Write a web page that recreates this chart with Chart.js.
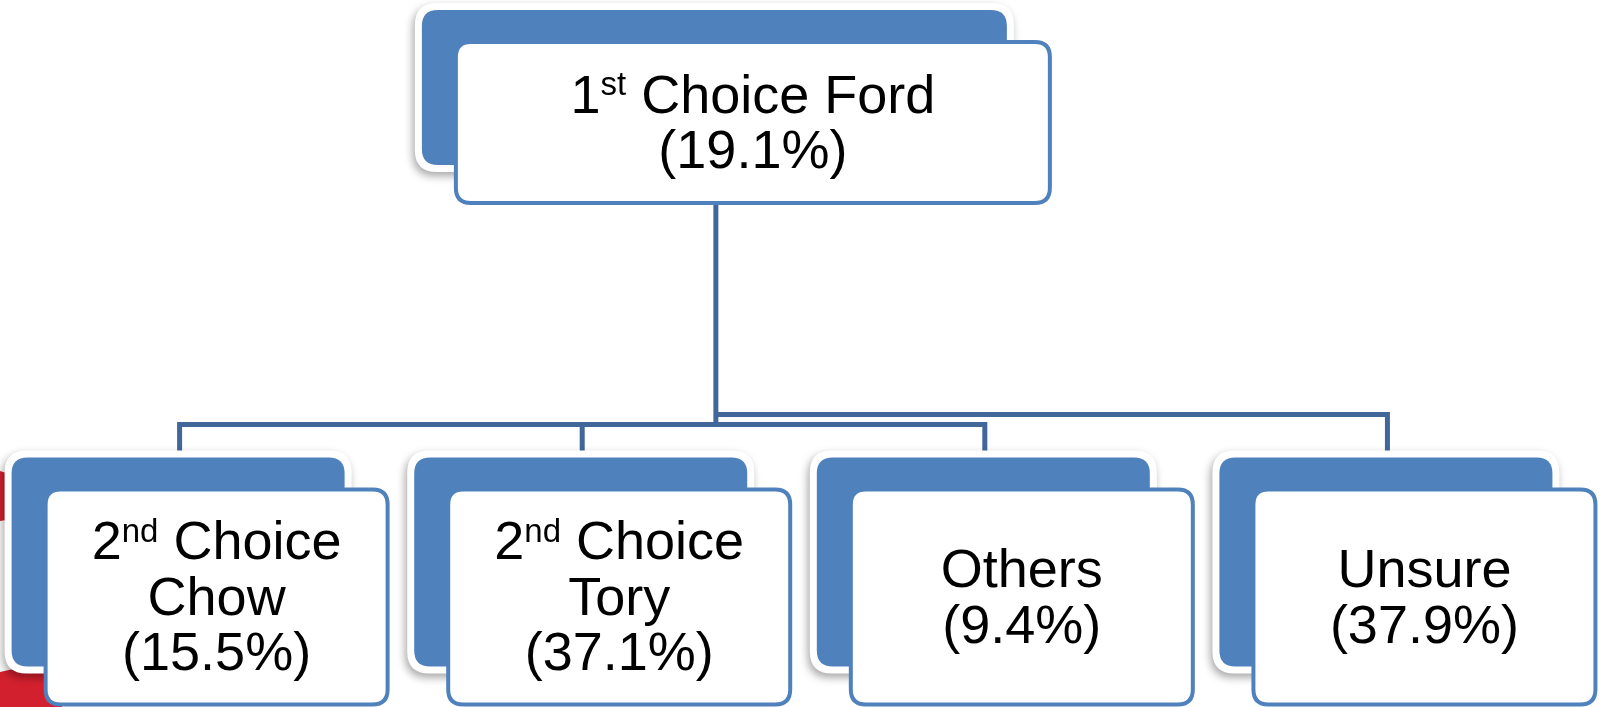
<!DOCTYPE html>
<html>
<head>
<meta charset="utf-8">
<script src="https://cdn.jsdelivr.net/npm/chart.js@4.4.1/dist/chart.umd.min.js"></script>
<style>
    html, body { margin: 0; padding: 0; background: #fff; }
    #wrap { width: 1606px; height: 707px; position: relative; }
</style>
</head>
<body>
<div id="wrap"><canvas id="treeChart"></canvas></div>
<script>
// Данные диаграммы
const rootLabel = '1st Choice Ford';
const rootValue = 19.1;
const categories = ['2nd Choice Chow', '2nd Choice Tory', 'Others', 'Unsure'];
const values = [15.5, 37.1, 9.4, 37.9];

// Оформление
const BLUE = '#4F81BD';
const LINE = '#41679A';
const FONT = '"Liberation Sans", Arial, sans-serif';
const FONT_SIZE = 54;
const LINE_GAP = 55.5;
const ROOT_BOX = { w: 594, h: 161 };
const CHILD_BOX = { w: 342, h: 215 };
const BACK = { dx: -34, dy: -32, dw: -9, dh: -6 };
const STEM_DX = -37;      // линии идут к центру задней плашки
const ROOT_X = 1.332;     // корень чуть левее середины, как в оригинале
const RAIL_LOW = 0.6365;
const RAIL_HIGH = 0.6154; // правая ветка идёт по второй шине

document.addEventListener('DOMContentLoaded', () => {
    initializeChart();
});

function roundRectPath(ctx, x, y, w, h, r) {
    ctx.beginPath();
    ctx.moveTo(x + r, y);
    ctx.lineTo(x + w - r, y);
    ctx.quadraticCurveTo(x + w, y, x + w, y + r);
    ctx.lineTo(x + w, y + h - r);
    ctx.quadraticCurveTo(x + w, y + h, x + w - r, y + h);
    ctx.lineTo(x + r, y + h);
    ctx.quadraticCurveTo(x, y + h, x, y + h - r);
    ctx.lineTo(x, y + r);
    ctx.quadraticCurveTo(x, y, x + r, y);
    ctx.closePath();
}

// Разбивка строки на части с верхним индексом (1st, 2nd ...)
function richParts(text) {
    const m = text.match(/^(\d+)(st|nd|rd|th)(.*)$/);
    if (!m) return [{ t: text, sup: false }];
    return [{ t: m[1], sup: false }, { t: m[2], sup: true }, { t: m[3], sup: false }];
}

function supSize() {
    return Math.round(FONT_SIZE * 0.62);
}

function richWidth(ctx, text) {
    let w = 0;
    richParts(text).forEach(p => {
        ctx.font = (p.sup ? supSize() : FONT_SIZE) + 'px ' + FONT;
        w += ctx.measureText(p.t).width;
    });
    return w;
}

function drawRichLine(ctx, text, cx, baseline) {
    let x = cx - richWidth(ctx, text) / 2;
    ctx.textAlign = 'left';
    ctx.textBaseline = 'alphabetic';
    ctx.fillStyle = '#000';
    richParts(text).forEach(p => {
        ctx.font = (p.sup ? supSize() : FONT_SIZE) + 'px ' + FONT;
        ctx.fillText(p.t, x, p.sup ? baseline - FONT_SIZE * 0.32 : baseline);
        x += ctx.measureText(p.t).width;
    });
}

function wrapLabel(ctx, label, maxW) {
    const words = label.split(' ');
    const lines = [];
    let cur = '';
    words.forEach(word => {
        const test = cur ? cur + ' ' + word : word;
        if (cur && richWidth(ctx, test) > maxW) {
            lines.push(cur);
            cur = word;
        } else {
            cur = test;
        }
    });
    if (cur) lines.push(cur);
    return lines;
}

function drawNode(ctx, cx, cy, box, label, value) {
    const L = cx - box.w / 2, T = cy - box.h / 2;
    const bx = L + BACK.dx, by = T + BACK.dy, bw = box.w + BACK.dw, bh = box.h + BACK.dh;

    // белая обводка задней плашки с тенью
    ctx.save();
    ctx.shadowColor = 'rgba(0,0,0,0.35)';
    ctx.shadowBlur = 8;
    ctx.shadowOffsetX = -2;
    ctx.shadowOffsetY = 4;
    ctx.fillStyle = '#fff';
    roundRectPath(ctx, bx - 7, by - 7, bw + 14, bh + 14, 22);
    ctx.fill();
    ctx.restore();

    ctx.fillStyle = BLUE;
    roundRectPath(ctx, bx, by, bw, bh, 16);
    ctx.fill();

    // передняя плашка
    ctx.fillStyle = '#fff';
    ctx.strokeStyle = BLUE;
    ctx.lineWidth = 4;
    roundRectPath(ctx, L, T, box.w, box.h, 15);
    ctx.fill();
    ctx.stroke();

    const lines = wrapLabel(ctx, label, box.w - 30);
    lines.push('(' + value.toFixed(1) + '%)');
    const n = lines.length;
    lines.forEach((line, i) => {
        drawRichLine(ctx, line, cx, cy + 18 + (i - (n - 1) / 2) * LINE_GAP);
    });
}

const treePlugin = {
    id: 'treePlugin',
    beforeDraw(chart) {
        // красный фон слева (кусок слайда)
        const ctx = chart.ctx;
        ctx.save();
        ctx.fillStyle = '#D3202E';
        ctx.beginPath();
        ctx.moveTo(0, 471); ctx.lineTo(26, 479); ctx.lineTo(26, 517); ctx.lineTo(0, 521);
        ctx.closePath();
        ctx.fill();
        ctx.beginPath();
        ctx.moveTo(0, 672); ctx.quadraticCurveTo(30, 664, 62, 668);
        ctx.lineTo(62, 707); ctx.lineTo(0, 707);
        ctx.closePath();
        ctx.fill();
        ctx.restore();
    },
    beforeDatasetsDraw(chart) {
        const ctx = chart.ctx;
        const yScale = chart.scales.y;
        const root = chart.getDatasetMeta(0).data[0];
        const kids = chart.getDatasetMeta(1).data;
        const lowY = yScale.getPixelForValue(RAIL_LOW);
        const highY = yScale.getPixelForValue(RAIL_HIGH);
        const rootStem = root.x + STEM_DX;

        ctx.save();
        ctx.strokeStyle = LINE;
        ctx.lineWidth = 5;
        ctx.lineJoin = 'miter';
        ctx.beginPath();
        ctx.moveTo(rootStem, root.y + ROOT_BOX.h / 2);
        ctx.lineTo(rootStem, lowY);
        ctx.stroke();
        kids.forEach((k, i) => {
            const rail = i < kids.length - 1 ? lowY : highY;
            const sx = k.x + STEM_DX;
            ctx.beginPath();
            ctx.moveTo(rootStem, rail);
            ctx.lineTo(sx, rail);
            ctx.lineTo(sx, k.y - CHILD_BOX.h / 2 + BACK.dy + 4);
            ctx.stroke();
        });
        ctx.restore();
    },
    afterDatasetsDraw(chart) {
        const ctx = chart.ctx;
        const root = chart.getDatasetMeta(0).data[0];
        const kids = chart.getDatasetMeta(1).data;
        ctx.save();
        drawNode(ctx, root.x, root.y, ROOT_BOX, rootLabel, rootValue);
        kids.forEach((k, i) => drawNode(ctx, k.x, k.y, CHILD_BOX, categories[i], values[i]));
        ctx.restore();
    }
};

function initializeChart() {
    const ctx = document.getElementById('treeChart').getContext('2d');
    new Chart(ctx, {
        type: 'scatter',
        data: {
            datasets: [{
                label: rootLabel,
                data: [{ x: ROOT_X, y: 0 }],
                pointRadius: 0
            }, {
                label: 'second level',
                data: categories.map((c, i) => ({ x: i, y: 1 })),
                pointRadius: 0
            }]
        },
        options: {
            responsive: true,
            maintainAspectRatio: false,
            animation: false,
            events: [],
            layout: { padding: 0 },
            plugins: {
                legend: { display: false },
                tooltip: { enabled: false }
            },
            scales: {
                x: { type: 'linear', display: false, min: -0.538, max: 3.451 },
                y: { type: 'linear', display: false, reverse: true, min: -0.258, max: 1.232 }
            }
        },
        plugins: [treePlugin]
    });
}
</script>
</body>
</html>
